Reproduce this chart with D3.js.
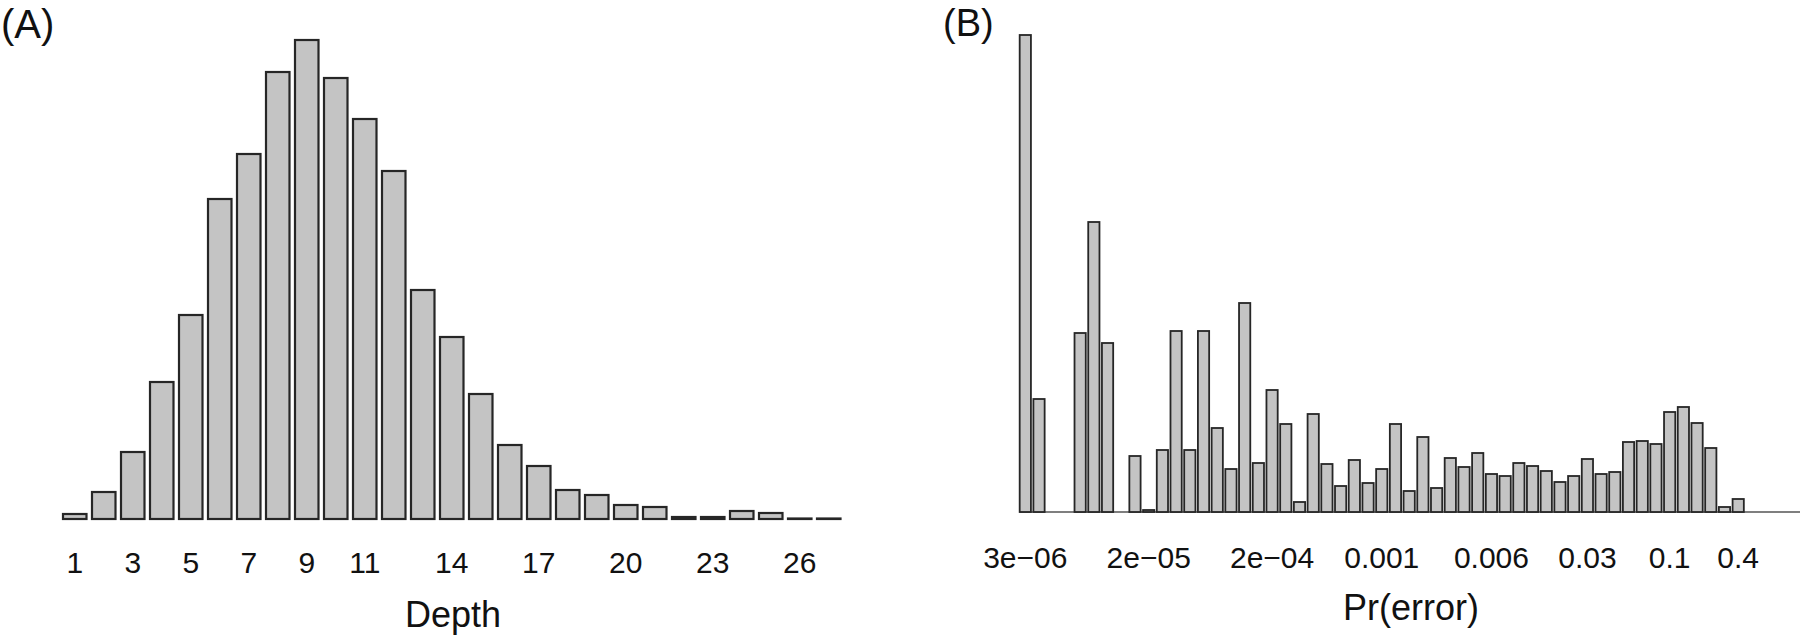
<!DOCTYPE html>
<html>
<head>
<meta charset="utf-8">
<script src="https://cdn.jsdelivr.net/npm/d3@7"></script>
<style>
  body { margin: 0; background: #fff; }
  svg { display: block; font-family: "Liberation Sans", Arial, Helvetica, sans-serif; }
</style>
</head>
<body>
<svg id="chart" width="1800" height="636"></svg>
<script>
"use strict";

// (A) read depth histogram
const depths = [1, 2, 3, 4, 5, 6, 7, 8, 9, 10, 11, 12, 13, 14, 15, 16, 17, 18, 19, 20, 21, 22, 23, 24, 25, 26, 27];
const depthFreq = [5, 27, 67, 137, 204, 320, 365, 447, 479, 441, 400, 348, 229, 182, 125, 74, 53, 29, 24, 14, 12, 2, 2, 8, 6, 0.5, 0.5];
const depthTicks = [1, 3, 5, 7, 9, 11, 14, 17, 20, 23, 26];

// (B) error probability histogram, log-spaced bins
const errorFreq = [477, 113, 0, 0, 179, 290, 169, 0, 56, 2, 62, 181, 62, 181, 84, 43, 209, 49, 122, 88,
  10, 98, 48, 26, 52, 29, 43, 88, 21, 75, 24, 54, 45, 59, 38, 36, 49, 46, 41, 30,
  36, 53, 38, 40, 70, 71, 68, 100, 105, 89, 64, 5, 13, 0, 0, 0, 0];
const errorTickBins = [0, 9, 18, 26, 34, 41, 47, 52];
const errorTickLabels = ["3e\u221206", "2e\u221205", "2e\u221204", "0.001", "0.006", "0.03", "0.1", "0.4"];

const FILL = "#c4c4c4";
const EDGE = "#262626";

const svg = d3.select("#chart");

// ---- panel A ----
const baseA = 519;
const xA = d3.scaleBand()
  .domain(depths)
  .range([60.25, 843.25])
  .paddingInner(0.19)
  .paddingOuter(0.095);
const yA = d3.scaleLinear()
  .domain([0, d3.max(depthFreq)])
  .range([baseA, 40]);

svg.append("g")
  .selectAll("rect")
  .data(depthFreq)
  .enter()
  .append("rect")
    .attr("x", (d, i) => xA(depths[i]))
    .attr("y", d => yA(d))
    .attr("width", xA.bandwidth())
    .attr("height", d => baseA - yA(d))
    .attr("fill", FILL)
    .attr("stroke", EDGE)
    .attr("stroke-width", 2.2);

const axA = svg.append("g")
  .attr("transform", "translate(0," + baseA + ")")
  .call(d3.axisBottom(xA).tickValues(depthTicks).tickSize(0).tickPadding(33));
axA.attr("font-size", 30).attr("font-family", null);
axA.select(".domain").remove();
axA.selectAll("text").attr("fill", "#111");

svg.append("text")
  .attr("x", 453)
  .attr("y", 627)
  .attr("text-anchor", "middle")
  .attr("font-size", 36)
  .attr("fill", "#111")
  .text("Depth");

svg.append("text")
  .attr("x", 1)
  .attr("y", 38)
  .attr("font-size", 40)
  .attr("fill", "#111")
  .text("(A)");

// ---- panel B ----
const baseB = 512;
const errorBins = errorFreq.map((d, i) => i);
const xB = d3.scaleBand()
  .domain(errorBins)
  .range([1018.45, 1799.9])
  .paddingInner(0.18)
  .paddingOuter(0.09);
const yB = d3.scaleLinear()
  .domain([0, d3.max(errorFreq)])
  .range([baseB, 35]);

// zero-count bins show as a flat line along the bottom
svg.append("line")
  .attr("x1", xB(0))
  .attr("x2", xB(errorBins.length - 1) + xB.bandwidth() + 3)
  .attr("y1", baseB)
  .attr("y2", baseB)
  .attr("stroke", "#555")
  .attr("stroke-width", 1.4);

svg.append("g")
  .selectAll("rect")
  .data(errorBins.filter(i => errorFreq[i] > 0))
  .enter()
  .append("rect")
    .attr("x", i => xB(i))
    .attr("y", i => yB(errorFreq[i]))
    .attr("width", xB.bandwidth())
    .attr("height", i => baseB - yB(errorFreq[i]))
    .attr("fill", FILL)
    .attr("stroke", EDGE)
    .attr("stroke-width", 1.8);

const axB = svg.append("g")
  .attr("transform", "translate(0," + baseB + ")")
  .call(d3.axisBottom(xB)
    .tickValues(errorTickBins)
    .tickFormat((d, i) => errorTickLabels[i])
    .tickSize(0)
    .tickPadding(35));
axB.attr("font-size", 30).attr("font-family", null);
axB.select(".domain").remove();
axB.selectAll("text").attr("fill", "#111");

svg.append("text")
  .attr("x", 1411)
  .attr("y", 620)
  .attr("text-anchor", "middle")
  .attr("font-size", 36)
  .attr("fill", "#111")
  .text("Pr(error)");

svg.append("text")
  .attr("x", 943)
  .attr("y", 36)
  .attr("font-size", 38)
  .attr("fill", "#111")
  .text("(B)");
</script>
</body>
</html>
